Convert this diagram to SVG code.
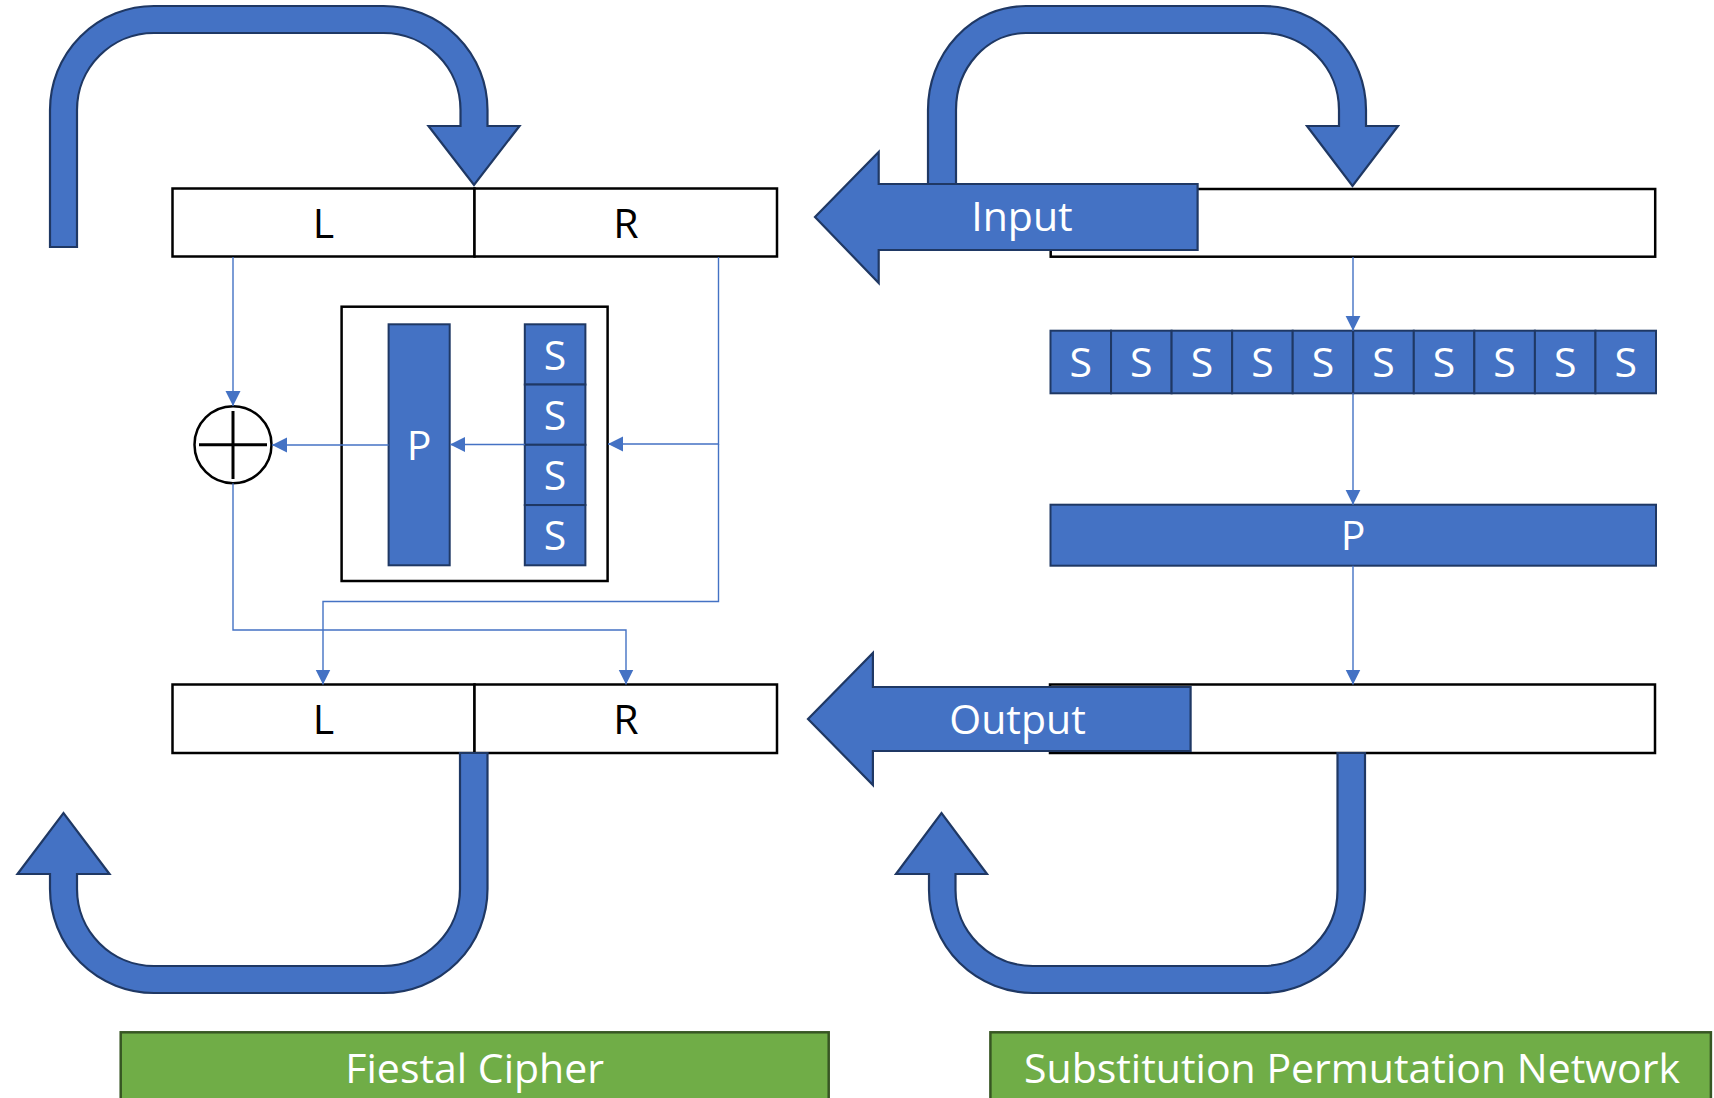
<svg xmlns="http://www.w3.org/2000/svg" width="1714" height="1098" viewBox="0 0 1714 1098">
  <defs>
    <style>
      .box { fill: #FFFFFF; stroke: #000000; stroke-width: 2.5; }
      .blk { fill: #4472C4; stroke: #1F3864; stroke-width: 2; stroke-linejoin: miter; }
      .big { fill: #4472C4; stroke: #1F3864; stroke-width: 2.2; stroke-linejoin: miter; }
      .tag { fill: #70AD47; stroke: #375623; stroke-width: 2.5; }
      .wire { fill: none; stroke: #4472C4; stroke-width: 1.4; }
      .dark { font-family: 'Open Sans', 'DejaVu Sans', sans-serif; font-size: 41px; fill: #000000; text-anchor: middle; }
      .lite { font-family: 'Open Sans', 'DejaVu Sans', sans-serif; font-size: 41px; fill: #FFFFFF; text-anchor: middle; }
    </style>
    <marker id="tri" markerUnits="userSpaceOnUse" markerWidth="16" markerHeight="16" viewBox="0 0 16 16" refX="15" refY="7.5" orient="auto">
      <path d="M0,0 L15,7.5 L0,15 Z" fill="#4472C4"/>
    </marker>
  </defs>

  <rect width="1714" height="1098" fill="#FFFFFF"/>

  <!-- ===== Feistel side ===== -->
  <g id="feistel-top">
    <rect class="box" x="172.5" y="188.5" width="302" height="68"/>
    <rect class="box" x="474.5" y="188.5" width="302.5" height="68"/>
    <text class="dark" x="323.5" y="238">L</text>
    <text class="dark" x="626" y="238">R</text>
  </g>

  <g id="feistel-bottom">
    <rect class="box" x="172.5" y="684.5" width="302" height="68.5"/>
    <rect class="box" x="474.5" y="684.5" width="302.5" height="68.5"/>
    <text class="dark" x="323.5" y="734">L</text>
    <text class="dark" x="626" y="734">R</text>
  </g>

  <g id="round-function">
    <rect class="box" x="341.6" y="306.7" width="266" height="274.3"/>
    <g id="perm">
      <rect class="blk" x="388.6" y="324.3" width="61.1" height="241"/>
      <text class="lite" x="419" y="460">P</text>
    </g>
    <g id="sboxes">
      <rect class="blk" x="524.8" y="324.3" width="60.6" height="60.25"/>
      <rect class="blk" x="524.8" y="384.55" width="60.6" height="60.25"/>
      <rect class="blk" x="524.8" y="444.8" width="60.6" height="60.25"/>
      <rect class="blk" x="524.8" y="505.05" width="60.6" height="60.25"/>
      <text class="lite" x="555.1" y="369.5">S</text>
      <text class="lite" x="555.1" y="429.7">S</text>
      <text class="lite" x="555.1" y="490">S</text>
      <text class="lite" x="555.1" y="550.2">S</text>
    </g>
  </g>

  <g id="xor">
    <circle cx="233" cy="444.7" r="38.5" fill="#FFFFFF" stroke="#000000" stroke-width="2.5"/>
    <line x1="199" y1="444.7" x2="267" y2="444.7" stroke="#000000" stroke-width="3"/>
    <line x1="233" y1="411" x2="233" y2="479" stroke="#000000" stroke-width="3"/>
  </g>

  <!-- curved round arrows, Feistel -->
  <g id="feistel-loop-top">
    <path class="big" d="M50,247 L50,110 A104,104 0 0 1 154,6 L383.5,6 A104,104 0 0 1 487.5,110 L487.5,126 L519.5,126 L474,185 L428.5,126 L460.5,126 L460.5,110 A77,77 0 0 0 383.5,33 L154,33 A77,77 0 0 0 77,110 L77,247 Z"/>
  </g>
  <g id="feistel-loop-bottom">
    <path class="big" d="M460,753 L487.5,753 L487.5,889 A104,104 0 0 1 383.5,993 L154,993 A104,104 0 0 1 50,889 L50,874 L17.5,874 L63.5,813 L109.5,874 L77,874 L77,889 A77,77 0 0 0 154,966 L383.5,966 A77,77 0 0 0 460,889 Z"/>
  </g>

  <!-- ===== SPN side ===== -->
  <g id="spn-in">
    <rect class="box" x="1050.7" y="189" width="604.5" height="67.7"/>
  </g>

  <g id="spn-sboxes">
    <rect class="blk" x="1050.5" y="330.7" width="60.55" height="62.6"/>
    <rect class="blk" x="1111.05" y="330.7" width="60.55" height="62.6"/>
    <rect class="blk" x="1171.6" y="330.7" width="60.55" height="62.6"/>
    <rect class="blk" x="1232.15" y="330.7" width="60.55" height="62.6"/>
    <rect class="blk" x="1292.7" y="330.7" width="60.55" height="62.6"/>
    <rect class="blk" x="1353.25" y="330.7" width="60.55" height="62.6"/>
    <rect class="blk" x="1413.8" y="330.7" width="60.55" height="62.6"/>
    <rect class="blk" x="1474.35" y="330.7" width="60.55" height="62.6"/>
    <rect class="blk" x="1534.9" y="330.7" width="60.55" height="62.6"/>
    <rect class="blk" x="1595.45" y="330.7" width="60.55" height="62.6"/>
    <text class="lite" x="1080.8" y="377">S</text>
    <text class="lite" x="1141.3" y="377">S</text>
    <text class="lite" x="1201.9" y="377">S</text>
    <text class="lite" x="1262.4" y="377">S</text>
    <text class="lite" x="1323" y="377">S</text>
    <text class="lite" x="1383.5" y="377">S</text>
    <text class="lite" x="1444.1" y="377">S</text>
    <text class="lite" x="1504.6" y="377">S</text>
    <text class="lite" x="1565.2" y="377">S</text>
    <text class="lite" x="1625.7" y="377">S</text>
  </g>

  <g id="spn-perm">
    <rect class="blk" x="1050.5" y="504.7" width="605.5" height="61"/>
    <text class="lite" x="1353" y="550">P</text>
  </g>

  <g id="spn-out">
    <rect class="box" x="1050" y="684.5" width="605" height="68.5"/>
  </g>

  <g id="spn-loop-top">
    <path class="big" d="M928,200 L928,110 A98,104 0 0 1 1026,6 L1263,6 A103,104 0 0 1 1366,110 L1366,126 L1398,126 L1352.5,186 L1307,126 L1339,126 L1339,110 A76,77 0 0 0 1263,33 L1026,33 A70,77 0 0 0 956,110 L956,200 Z"/>
  </g>
  <g id="spn-loop-bottom">
    <path class="big" d="M1337.5,753 L1365,753 L1365,890 A102,103 0 0 1 1263,993 L1033,993 A104,103 0 0 1 929,890 L929,874 L896,874 L941.5,813 L987,874 L955.5,874 L955.5,890 A77.5,76 0 0 0 1033,966 L1263,966 A74.5,76 0 0 0 1337.5,890 Z"/>
  </g>

  <g id="input-arrow">
    <path class="big" d="M1197.6,184 L878.7,184 L878.7,152 L815,217 L878.7,283 L878.7,250 L1197.6,250 Z"/>
    <text class="lite" x="1022" y="231">Input</text>
  </g>

  <g id="output-arrow">
    <path class="big" d="M1190.6,687 L872.9,687 L872.9,653 L808,719 L872.9,785 L872.9,751 L1190.6,751 Z"/>
    <text class="lite" x="1017.5" y="734">Output</text>
  </g>

  <!-- ===== connectors ===== -->
  <g id="connectors">
    <path class="wire" d="M233,257 V406" marker-end="url(#tri)"/>
    <path class="wire" d="M718.5,257 V444 H608" marker-end="url(#tri)"/>
    <path class="wire" d="M718.5,444 V601.5 H323 V684.5" marker-end="url(#tri)"/>
    <path class="wire" d="M524.8,444.5 H450" marker-end="url(#tri)"/>
    <path class="wire" d="M388.6,445 H272" marker-end="url(#tri)"/>
    <path class="wire" d="M233,483.3 V630 H626 V684.5" marker-end="url(#tri)"/>
    <path class="wire" d="M1353,257 V330.7" marker-end="url(#tri)"/>
    <path class="wire" d="M1353,393.3 V504.7" marker-end="url(#tri)"/>
    <path class="wire" d="M1353,565.7 V684.5" marker-end="url(#tri)"/>
  </g>

  <!-- ===== captions ===== -->
  <g id="caption-feistel">
    <rect class="tag" x="120.7" y="1032.3" width="708" height="80"/>
    <text class="lite" x="474.7" y="1082.7">Fiestal Cipher</text>
  </g>
  <g id="caption-spn">
    <rect class="tag" x="990.4" y="1032.3" width="720.5" height="80"/>
    <text class="lite" x="1352" y="1082.7">Substitution Permutation Network</text>
  </g>
</svg>
